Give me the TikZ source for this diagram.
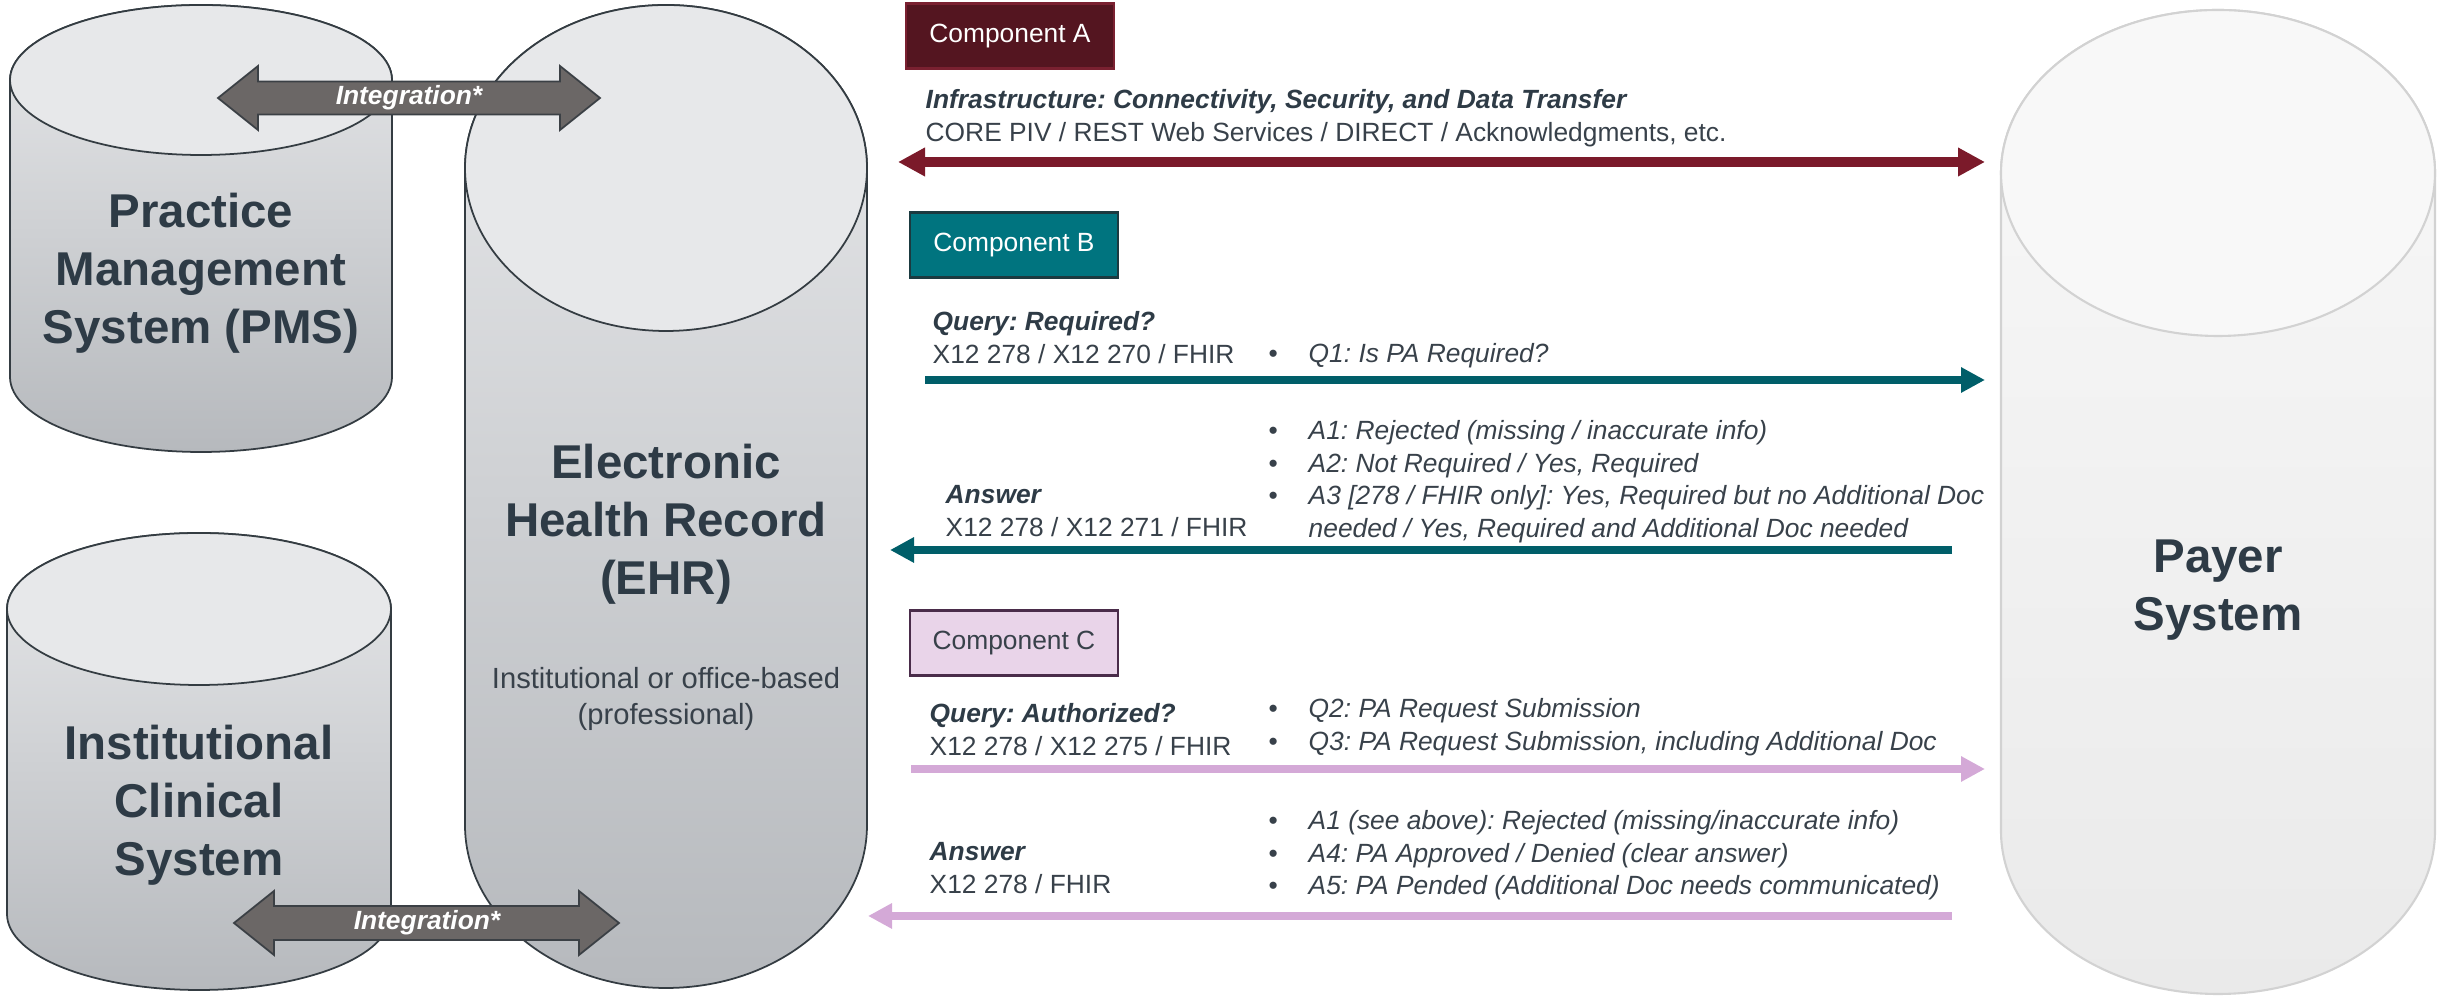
\documentclass[tikz,border=0pt]{standalone}
\usepackage{fontspec}
\setmainfont{Liberation Sans}
\usetikzlibrary{arrows.meta}
\frenchspacing
\definecolor{labeltext}{HTML}{2E3B46}
\definecolor{bodytext}{HTML}{38414A}
\definecolor{cyltop}{HTML}{E7E8EA}
\definecolor{cylbot}{HTML}{B6B9BD}
\definecolor{cylline}{HTML}{343C42}
\definecolor{payertop}{HTML}{F8F8F8}
\definecolor{payerbot}{HTML}{EAEAEA}
\definecolor{payerline}{HTML}{D2D2D2}
\definecolor{intfill}{HTML}{6B6766}
\definecolor{intline}{HTML}{3B4045}
\definecolor{compAbox}{HTML}{541520}
\definecolor{compAline}{HTML}{7A2030}
\definecolor{compAarrow}{HTML}{7B1A2A}
\definecolor{compBbox}{HTML}{00747F}
\definecolor{compBline}{HTML}{1B3A40}
\definecolor{compBarrow}{HTML}{005E69}
\definecolor{compCbox}{HTML}{E9D4E9}
\definecolor{compCline}{HTML}{4A2C4A}
\definecolor{compCarrow}{HTML}{D4A9D7}
\newcommand{\bul}{\makebox[4mm][l]{\upshape\textbullet}}
\newcommand{\nobul}{\hspace*{4mm}}

\begin{document}
\begin{tikzpicture}
[x=0.1mm, y=-0.1mm,
 cylbody/.style={draw=cylline, line width=0.5pt, top color=cyltop, bottom color=cylbot},
 cylend/.style={draw=cylline, line width=0.5pt, fill=cyltop},
 payerbody/.style={draw=payerline, line width=0.6pt, top color=payertop, bottom color=payerbot},
 payerend/.style={draw=payerline, line width=0.6pt, fill=payertop},
 bigtext/.style={font=\fontsize{13.5}{16.5}\selectfont\bfseries, text=labeltext, align=center, inner sep=0pt},
 subtext/.style={font=\fontsize{8.3}{10}\selectfont, text=bodytext, align=center, inner sep=0pt},
 label/.style={font=\fontsize{7.5}{9.25}\selectfont, text=bodytext, align=left, inner sep=0pt, anchor=north west},
 bullets/.style={label, font=\fontsize{7.5}{9.25}\selectfont\itshape},
 compbox/.style={rectangle, line width=0.7pt, minimum width=20.8mm, minimum height=6.5mm,
                 inner sep=0pt, font=\fontsize{7.5}{9}\selectfont},
 integration/.style={fill=intfill, draw=intline, line width=0.5pt},
 inttext/.style={font=\fontsize{7.5}{9}\selectfont\bfseries\itshape, text=white, inner sep=0pt},
 flow/.style={line width=0.72mm},
 tip/.tip={Triangle[length=2.4mm, width=2.4mm]},
 bigtip/.tip={Triangle[length=2.7mm, width=2.7mm]}]
\useasboundingbox (0,0) rectangle (2447,996);

% cylinders
\draw[cylbody] (10,80) -- (10,377) arc[start angle=180, end angle=0, x radius=191, y radius=75]
  -- (392,80) arc[start angle=0, end angle=-180, x radius=191, y radius=75] -- cycle;
\draw[cylend] (201,80) ellipse[x radius=191, y radius=75];
\draw[cylbody] (465,168) -- (465,825) arc[start angle=180, end angle=0, x radius=201, y radius=163]
  -- (867,168) arc[start angle=0, end angle=-180, x radius=201, y radius=163] -- cycle;
\draw[cylend] (666,168) ellipse[x radius=201, y radius=163];
\draw[cylbody] (7,609) -- (7,914) arc[start angle=180, end angle=0, x radius=192, y radius=76]
  -- (391,609) arc[start angle=0, end angle=-180, x radius=192, y radius=76] -- cycle;
\draw[cylend] (199,609) ellipse[x radius=192, y radius=76];
\draw[payerbody] (2001,173) -- (2001,831) arc[start angle=180, end angle=0, x radius=217, y radius=163]
  -- (2435,173) arc[start angle=0, end angle=-180, x radius=217, y radius=163] -- cycle;
\draw[payerend] (2218,173) ellipse[x radius=217, y radius=163];

\node[bigtext] (pms)   at (201,273)  {Practice\\Management\\System (PMS)};
\node[bigtext] (ehr)   at (666,524)  {Electronic\\Health Record\\(EHR)};
\node[subtext] (ehr-sub) at (666,699) {Institutional or office-based\\(professional)};
\node[bigtext] (ics)   at (199,805)  {Institutional\\Clinical\\System};
\node[bigtext] (payer) at (2218,590) {Payer\\System};

% integration arrows
\draw[integration] (218,98) -- (258,66) -- (258,81.5) -- (560,81.5) -- (560,66) -- (600,98)
  -- (560,130) -- (560,114.5) -- (258,114.5) -- (258,130) -- cycle;
\node[inttext] (int-top) at (409,98) {Integration*};
\draw[integration] (234,923) -- (274,891) -- (274,906) -- (579,906) -- (579,891) -- (619,923)
  -- (579,955) -- (579,940) -- (274,940) -- (274,955) -- cycle;
\node[inttext] (int-bot) at (427,923) {Integration*};

% component A
\node[compbox, fill=compAbox, draw=compAline, text=white] (compA) at (1010,36) {Component A};
\node[label] (infra) at (925,89)
  {\textbf{\textit{\color{labeltext}Infrastructure: Connectivity, Security, and Data Transfer}}\\
   CORE PIV / REST Web Services / DIRECT / Acknowledgments, etc.};
\coordinate (a-west) at (898,162);
\coordinate (a-east) at (1985,162);

% component B
\node[compbox, fill=compBbox, draw=compBline, text=white] (compB) at (1014,245) {Component B};
\node[label] (bq) at (932,311) {\textbf{\textit{\color{labeltext}Query: Required?}}\\X12 278 / X12 270 / FHIR};
\node[bullets] (bq-list) at (1268,343) {\bul Q1: Is PA Required?};
\node[label] (ba) at (945,485) {\textbf{\textit{\color{labeltext}Answer}}\\X12 278 / X12 271 / FHIR};
\node[bullets] (ba-list) at (1268,420)
  {\bul A1: Rejected (missing / inaccurate info)\\
   \bul A2: Not Required / Yes, Required\\
   \bul A3 [278 / FHIR only]: Yes, Required but no Additional Doc\\
   \nobul needed / Yes, Required and Additional Doc needed};
\coordinate (bq-west) at (925,380);
\coordinate (bq-east) at (1985,380);
\coordinate (ba-east) at (1952,550);
\coordinate (ba-west) at (890,550);

% component C
\node[compbox, fill=compCbox, draw=compCline, text=bodytext] (compC) at (1014,643) {Component C};
\node[label] (cq) at (929,703) {\textbf{\textit{\color{labeltext}Query: Authorized?}}\\X12 278 / X12 275 / FHIR};
\node[bullets] (cq-list) at (1268,698)
  {\bul Q2: PA Request Submission\\
   \bul Q3: PA Request Submission, including Additional Doc};
\node[label] (ca) at (929,842) {\textbf{\textit{\color{labeltext}Answer}}\\X12 278 / FHIR};
\node[bullets] (ca-list) at (1268,810)
  {\bul A1 (see above): Rejected (missing/inaccurate info)\\
   \bul A4: PA Approved / Denied (clear answer)\\
   \bul A5: PA Pended (Additional Doc needs communicated)};
\coordinate (cq-west) at (911,769);
\coordinate (cq-east) at (1985,769);
\coordinate (ca-east) at (1952,916);
\coordinate (ca-west) at (868,916);

\draw[flow, line width=1mm, compAarrow, bigtip-bigtip] (a-west) -- (a-east);
\draw[flow, compBarrow, -tip] (bq-west) -- (bq-east);
\draw[flow, compBarrow, -tip] (ba-east) -- (ba-west);
\draw[flow, compCarrow, -tip] (cq-west) -- (cq-east);
\draw[flow, compCarrow, -tip] (ca-east) -- (ca-west);
\end{tikzpicture}
\end{document}
